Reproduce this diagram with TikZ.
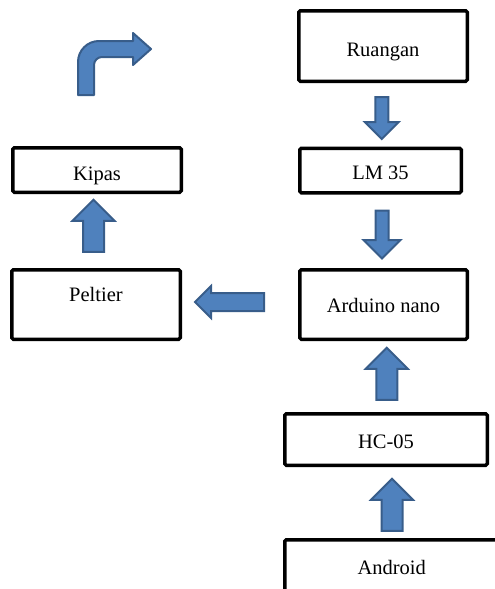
\documentclass[tikz,border=0pt]{standalone}
\usepackage{fontspec}
\setmainfont{Liberation Serif}
\usetikzlibrary{calc,shapes.arrows}
\definecolor{arrowfill}{HTML}{4F81BD}
\definecolor{arrowline}{HTML}{385D8A}
\tikzset{
  box/.style={draw,line width=3.5pt,rounded corners=1.5pt,inner sep=0pt,
    font=\fontsize{20.5}{24}\selectfont},
  bh/.style={text height=#1,text depth=0pt},
  blockarrow/.style args={#1/#2/#3/#4}{single arrow,draw=arrowline,fill=arrowfill,
    line width=2pt,shape border rotate=#1,minimum height=#2,inner sep=#3,
    single arrow head extend=#4,single arrow head indent=0pt}
}
\begin{document}
\begin{tikzpicture}[x=1pt,y=-1pt]
    \useasboundingbox (0,0) rectangle (495,589);
    % blocks
    \node[box,minimum width=168.5pt,minimum height=70.5pt,bh=20pt] (ruangan) at (383,46) {Ruangan};
    \node[box,minimum width=161.5pt,minimum height=44.5pt,bh=17pt] (lm35) at (380.5,170.5) {LM 35};
    \node[box,minimum width=167.5pt,minimum height=69.5pt,bh=16.4pt] (arduino) at (383.5,304.5) {Arduino nano};
    \node[box,minimum width=168.5pt,minimum height=69.5pt,text height=0pt,text depth=5.6pt] (peltier) at (96,304.5) {Peltier};
    \node[box,minimum width=168.5pt,minimum height=44.5pt,bh=20pt] (kipas) at (97,170) {Kipas};
    \node[box,minimum width=202.5pt,minimum height=51.5pt,bh=17pt] (hc05) at (386,439.5) {HC-05};
    \node[box,minimum width=226.5pt,minimum height=68.5pt,bh=0pt] (android) at (398,574) {\hspace*{-12.5pt}Android};
    % block arrows
    \node[blockarrow={270/42pt/5.5pt/10.5pt}] (a1) at ($(ruangan.south)!.5!(lm35.north)$) {};
    \node[blockarrow={270/48pt/5.5pt/12pt}] (a2) at ($(lm35.south)!.5!(arduino.north)$) {};
    \node[blockarrow={180/69pt/8pt/7pt}] (a3) at ($(arduino.west)!.5!(peltier.east)+(-6,-2.5)$) {};
    \node[blockarrow={90/52pt/9.5pt/10.5pt}] (a4) at ($(peltier.north)!.5!(kipas.south)+(-3,0)$) {};
    \node[blockarrow={90/52pt/9.5pt/10.5pt}] (a5) at ($(hc05.north)!.5!(arduino.south)+(2,2.5)$) {};
    \node[blockarrow={90/52pt/9.5pt/10.5pt}] (a6) at ($(android.north -| hc05.south)!.5!(hc05.south)+(6,7.5)$) {};
    % bent arrow
    \draw[line width=2pt,draw=arrowline,fill=arrowfill,line join=round]
      (78,95) -- (78,62) arc[start angle=180,end angle=270,radius=21] -- (133,41)
      -- (133,33) -- (151,49) -- (133,65) -- (133,57) -- (102,57)
      arc[start angle=270,end angle=180,radius=8] -- (94,95) -- cycle;
\end{tikzpicture}
\end{document}
